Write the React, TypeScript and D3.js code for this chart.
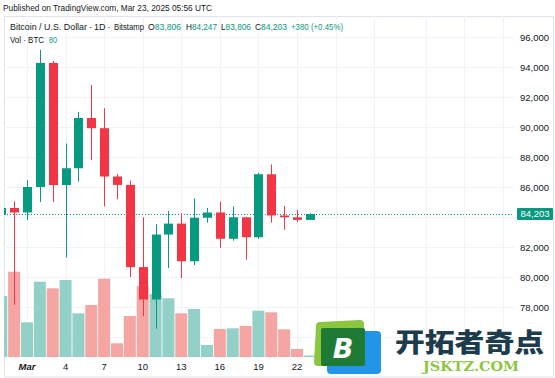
import React from "react";
import * as d3 from "d3";

const dates = [
  "2025-02-27","2025-02-28","2025-03-01","2025-03-02","2025-03-03","2025-03-04","2025-03-05",
  "2025-03-06","2025-03-07","2025-03-08","2025-03-09","2025-03-10","2025-03-11","2025-03-12",
  "2025-03-13","2025-03-14","2025-03-15","2025-03-16","2025-03-17","2025-03-18","2025-03-19",
  "2025-03-20","2025-03-21","2025-03-22","2025-03-23",
];
const opens = [84150,84600,84300,86000,94270,86130,87250,90600,89920,86700,86140,80660,78500,82830,83560,81050,83950,84300,82550,83980,82650,86850,84100,83980,83806];
const highs = [87000,85050,86450,95150,94400,88900,91000,92800,91250,86870,86420,83980,83520,84400,84250,85250,84600,85020,84700,84000,86950,87500,84730,84470,84247];
const lows = [82750,78150,83800,85000,85000,81300,86350,87800,84700,85180,80000,77380,76550,80600,79930,80800,83620,81950,82420,81150,82550,83620,83150,83670,83806];
const closes = [84600,84300,86000,94270,86130,87250,90600,89920,86700,86140,80660,78500,82830,83560,81050,83950,84300,82550,83980,82650,86850,84100,83980,83806,84203];
const volumes = [3230,4515,1837,3987,3637,4076,2313,2753,4145,725,2170,3759,3335,3107,2313,2541,635,1482,1518,1641,2451,2366,1466,424,80];

const priceTicks = [78000,80000,82000,84000,86000,88000,90000,92000,94000,96000];
const priceTickLabels = ["78,000","80,000","82,000","84,000","86,000","88,000","90,000","92,000","94,000","96,000"];
const gridDates = ["2025-03-01","2025-03-04","2025-03-07","2025-03-10","2025-03-13","2025-03-16","2025-03-19","2025-03-22","2025-03-25","2025-03-28","2025-04-01","2025-04-04","2025-04-07"];
const xLabelDates = ["2025-03-01","2025-03-04","2025-03-07","2025-03-10","2025-03-13","2025-03-16","2025-03-19","2025-03-22"];
const xLabels = ["Mar","4","7","10","13","16","19","22"];

const titleParts = ["Bitcoin / U.S. Dollar", "·", "1D", "·", "Bitstamp"];
const legendKeys = ["O","H","L","C"];
const legendVals = ["83,806","84,247","83,806","84,203"];
const lastPrice = 84203;
const lastPriceLabel = "84,203";

const UP = "#089981";
const DOWN = "#f23645";
const UPV = "#92d0c8";
const DOWNV = "#f5a6a3";
const FONT = "'Liberation Sans', Arial, sans-serif";

export default function App() {
  const W = 555, H = 378;
  const paneL = 4, paneR = 514, paneT = 16, paneB = 357;
  const parse = (s: string) => new Date(s + "T00:00:00Z");
  const x = d3.scaleUtc().domain([parse("2025-03-01"), parse("2025-03-22")]).range([27, 297]);
  const y = d3.scaleLinear().domain([78000, 96000]).range([307, 37]);
  const yv = d3.scaleLinear().domain([0, 4500]).range([paneB, 272]);
  const bodyW = 9, volW = 12;

  const items = dates.map((d, i) => ({
    date: parse(d), o: opens[i], h: highs[i], l: lows[i], c: closes[i], v: volumes[i],
  }));

  const titleX = [10, 89, 94, 107.5, 114];
  const titleW: (number | undefined)[] = [77, undefined, undefined, undefined, 30];
  const legendX = [148, 186, 221, 255];
  const legendW = [33, 31, 30, 32];

  return (
    <svg width={W} height={H} style={{ position: "absolute", left: 0, top: 0, background: "#fff" }} fontFamily={FONT}>
      <defs>
        <clipPath id="pane">
          <rect x={paneL} y={paneT} width={paneR - paneL} height={paneB - paneT} />
        </clipPath>
      </defs>
      <rect x={0} y={0} width={W} height={H} fill="#fff" />
      <text x={3} y={11} fontSize={9.5} fill="#131722" textLength={209} lengthAdjust="spacingAndGlyphs">
        Published on TradingView.com, Mar 23, 2025 05:56 UTC
      </text>
      <rect x={paneL + 0.5} y={paneT + 0.5} width={W - paneL - 2} height={H - paneT - 1.5} fill="none" stroke="#e0e3eb" />
      <g clipPath="url(#pane)">
        {priceTicks.map((p) => (
          <line key={p} x1={paneL} x2={paneR} y1={Math.round(y(p)) + 0.5} y2={Math.round(y(p)) + 0.5} stroke="#f0f3fa" />
        ))}
        <line x1={paneL} x2={paneR} y1={Math.round(y(76000)) + 0.5} y2={Math.round(y(76000)) + 0.5} stroke="#f0f3fa" />
        {gridDates.map((d) => (
          <line key={d} x1={Math.round(x(parse(d))) + 0.5} x2={Math.round(x(parse(d))) + 0.5} y1={paneT} y2={paneB} stroke="#f0f3fa" />
        ))}
        {items.map((it, i) => (
          <rect key={"v" + i} x={x(it.date) - volW / 2} y={yv(it.v)} width={volW} height={paneB - yv(it.v)}
            fill={it.c >= it.o ? UPV : DOWNV} />
        ))}
        <line x1={paneL} x2={paneR} y1={Math.round(y(lastPrice)) + 0.5} y2={Math.round(y(lastPrice)) + 0.5}
          stroke={UP} strokeDasharray="1,2" strokeWidth={1} />
        {items.map((it, i) => {
          const cx = Math.round(x(it.date)) + 0.5;
          const col = it.c >= it.o ? UP : DOWN;
          const top = y(Math.max(it.o, it.c));
          const bot = y(Math.min(it.o, it.c));
          return (
            <g key={"c" + i}>
              <line x1={cx} x2={cx} y1={y(it.h)} y2={y(it.l)} stroke={col} strokeWidth={1} />
              <rect x={cx - bodyW / 2} y={top} width={bodyW} height={Math.max(1, bot - top)} fill={col} />
            </g>
          );
        })}
      </g>
      <g fontSize={9}>
        {titleParts.map((t, i) => (
          <text key={i} x={titleX[i]} y={30} fill="#131722" fontSize={i === 4 ? 8.3 : 9}
            textLength={titleW[i]} lengthAdjust={titleW[i] ? "spacingAndGlyphs" : undefined}>{t}</text>
        ))}
        {legendKeys.map((k, i) => (
          <text key={k} x={legendX[i]} y={30} fill="#131722" textLength={legendW[i]} lengthAdjust="spacingAndGlyphs">
            {k}<tspan fill={UP}>{legendVals[i]}</tspan>
          </text>
        ))}
        <text x={291} y={30} fill={UP} textLength={52} lengthAdjust="spacingAndGlyphs">+380 (+0.45%)</text>
        <text x={10} y={43} fill="#131722" textLength={34} lengthAdjust="spacingAndGlyphs">Vol · BTC</text>
        <text x={49} y={43} fill={UP} textLength={8} lengthAdjust="spacingAndGlyphs">80</text>
      </g>
      <g fontSize={9.5} fill="#131722" textAnchor="end">
        {priceTicks.map((p, i) =>
          Math.abs(y(p) - y(lastPrice)) > 12 ? (
            <text key={p} x={549} y={y(p) + 3.5}>{priceTickLabels[i]}</text>
          ) : null
        )}
      </g>
      <rect x={517} y={y(lastPrice) - 6} width={36} height={12} fill={UP} rx={1} />
      <text x={535} y={y(lastPrice) + 3.5} fontSize={9.5} fill="#fff" textAnchor="middle">{lastPriceLabel}</text>
      <g fontSize={9.5} fill="#131722" textAnchor="middle">
        {xLabelDates.map((d, i) => (
          <text key={d} x={x(parse(d))} y={370} fontWeight={i === 0 ? 700 : 400} fontStyle={i === 0 ? "italic" : "normal"}>{xLabels[i]}</text>
        ))}
      </g>
      <g>
        <path d="M316,326 Q316,322 320,322 L360,320 Q364,320 364,324 L362,362 Q362,366 358,366 L318,366 Q314,366 314,362 Z" fill="#8cc63f" />
        <rect x={327} y={331} width={54} height={43} rx={4} fill="#2196e8" />
        <rect x={321} y={328} width={44} height={38} rx={2} fill="#1f7a35" />
        <text x={343} y={358} fontSize={27} fontWeight={700} fontStyle="italic" fill="#fff" textAnchor="middle" fontFamily="'DejaVu Sans', sans-serif">B</text>
        <text x={395} y={352} fontSize={26} fontWeight={900} fill="#1c3c4c" textLength={149} lengthAdjust="spacingAndGlyphs" fontFamily="'Noto Sans CJK SC', sans-serif">开拓者奇点</text>
        <text x={423} y={371} fontSize={12.5} fontWeight={700} fill="#8dc63f" textLength={96} lengthAdjust="spacingAndGlyphs" fontFamily="'DejaVu Serif', serif">JSKTZ.COM</text>
      </g>
    </svg>
  );
}
